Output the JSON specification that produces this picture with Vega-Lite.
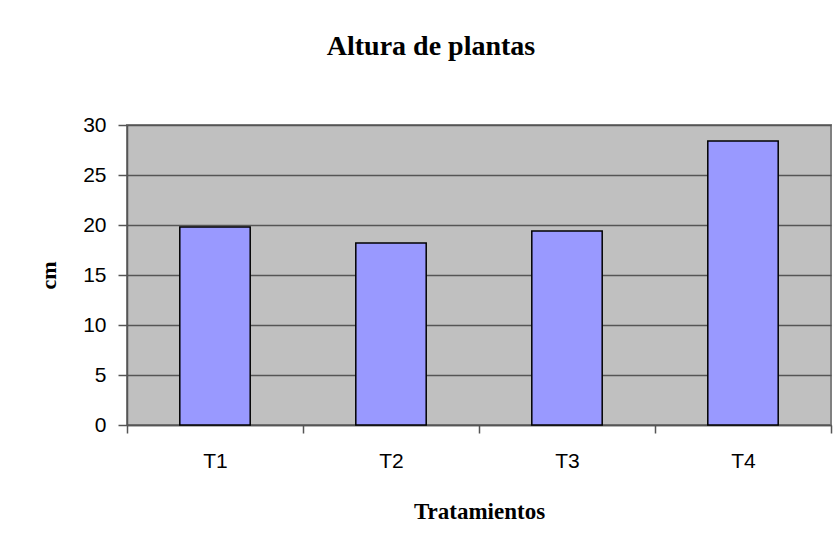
{
  "$schema": "https://vega.github.io/schema/vega-lite/v6.json",
  "width": 704,
  "height": 300,
  "autosize": "none",
  "padding": {"left": 127, "top": 125, "right": 7, "bottom": 121},
  "background": "white",
  "title": {
    "text": "Altura de plantas",
    "font": "Liberation Serif",
    "fontSize": 28,
    "fontWeight": "bold",
    "color": "black",
    "anchor": "middle",
    "baseline": "alphabetic",
    "offset": 31,
    "dx": -48
  },
  "data": {
    "values": [
      {"tratamiento": "T1", "cm": 19.8},
      {"tratamiento": "T2", "cm": 18.2},
      {"tratamiento": "T3", "cm": 19.4},
      {"tratamiento": "T4", "cm": 28.4}
    ]
  },
  "mark": {
    "type": "bar",
    "fill": "#9999FF",
    "stroke": "black",
    "strokeWidth": 1.5,
    "width": {"band": 0.4}
  },
  "encoding": {
    "x": {
      "field": "tratamiento",
      "type": "nominal",
      "scale": {"paddingInner": 0, "paddingOuter": 0},
      "axis": {
        "title": "Tratamientos",
        "titleFont": "Liberation Serif",
        "titleFontSize": 23,
        "titleFontWeight": "bold",
        "titleColor": "black",
        "titlePadding": 29,
        "labelFont": "Liberation Sans",
        "labelFontSize": 21,
        "labelColor": "black",
        "labelAngle": 0,
        "labelPadding": 17,
        "tickBand": "extent",
        "tickSize": 8,
        "tickColor": "#555555",
        "tickWidth": 1.5,
        "domainColor": "#555555",
        "domainWidth": 1.5,
        "grid": false
      }
    },
    "y": {
      "field": "cm",
      "type": "quantitative",
      "scale": {"domain": [0, 30], "nice": false},
      "axis": {
        "title": "cm",
        "titleFont": "Liberation Serif",
        "titleFontSize": 22,
        "titleFontWeight": "bold",
        "titleColor": "black",
        "titlePadding": 22,
        "values": [0, 5, 10, 15, 20, 25, 30],
        "labelFont": "Liberation Sans",
        "labelFontSize": 21,
        "labelColor": "black",
        "labelPadding": 12,
        "tickSize": 9,
        "tickColor": "#555555",
        "tickWidth": 1.5,
        "domainColor": "#555555",
        "domainWidth": 1.5,
        "grid": true,
        "gridColor": "#555555",
        "gridWidth": 1.5
      }
    }
  },
  "config": {
    "view": {"fill": "#C0C0C0", "stroke": "#808080", "strokeWidth": 2}
  }
}
